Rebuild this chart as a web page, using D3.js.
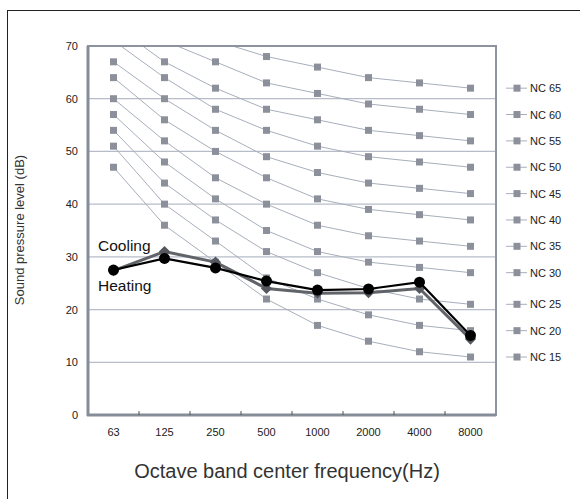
<!DOCTYPE html>
<html>
<head>
<meta charset="utf-8">
<script src="https://cdn.jsdelivr.net/npm/d3@7"></script>
<style>
  body { margin: 0; background: #fff; }
  svg { font-family: 'Liberation Sans', Arial, sans-serif; }
</style>
</head>
<body>
<div id="container"></div>
<script>
const frequencies = ['63', '125', '250', '500', '1000', '2000', '4000', '8000'];
const ncNames = ['NC 65', 'NC 60', 'NC 55', 'NC 50', 'NC 45', 'NC 40', 'NC 35', 'NC 30', 'NC 25', 'NC 20', 'NC 15'];
const ncValues = [
  [80, 75, 71, 68, 66, 64, 63, 62],
  [77, 71, 67, 63, 61, 59, 58, 57],
  [74, 67, 62, 58, 56, 54, 53, 52],
  [71, 64, 58, 54, 51, 49, 48, 47],
  [67, 60, 54, 49, 46, 44, 43, 42],
  [64, 56, 50, 45, 41, 39, 38, 37],
  [60, 52, 45, 40, 36, 34, 33, 32],
  [57, 48, 41, 35, 31, 29, 28, 27],
  [54, 44, 37, 31, 27, 24, 22, 21],
  [51, 40, 33, 26, 22, 19, 17, 16],
  [47, 36, 29, 22, 17, 14, 12, 11]
];
const coolingValues = [27.4, 31.0, 29.0, 24.0, 23.1, 23.2, 24.0, 14.4];
const heatingValues = [27.5, 29.7, 27.9, 25.4, 23.7, 23.9, 25.2, 15.1];
const yTicks = [0, 10, 20, 30, 40, 50, 60, 70];

const width = 580;
const height = 499;
const plot = { left: 88, top: 46, right: 496, bottom: 415 };

const svg = d3
  .select('#container')
  .append('svg')
  .attr('width', width)
  .attr('height', height);

// outer frame
svg
  .append('rect')
  .attr('x', 7.5)
  .attr('y', 10.5)
  .attr('width', 600)
  .attr('height', 600)
  .attr('fill', 'none')
  .attr('stroke', '#222')
  .attr('stroke-width', 1);

const x = d3
  .scaleBand()
  .domain(frequencies)
  .range([plot.left, plot.right]);
const y = d3.scaleLinear().domain([0, 70]).range([plot.bottom, plot.top]);
const cx = (d) => x(d) + x.bandwidth() / 2;

svg
  .append('defs')
  .append('clipPath')
  .attr('id', 'plotClip')
  .append('rect')
  .attr('x', plot.left)
  .attr('y', plot.top)
  .attr('width', plot.right - plot.left)
  .attr('height', plot.bottom - plot.top);

// grid
svg
  .append('g')
  .selectAll('line')
  .data(yTicks.filter((d) => d > 0 && d < 70))
  .enter()
  .append('line')
  .attr('x1', plot.left)
  .attr('x2', plot.right)
  .attr('y1', (d) => y(d))
  .attr('y2', (d) => y(d))
  .attr('stroke', '#b6bcc8')
  .attr('stroke-width', 1.2);

// NC curves
const ncLine = d3
  .line()
  .x((d, i) => cx(frequencies[i]))
  .y((d) => y(d));

const ncGroup = svg.append('g').attr('clip-path', 'url(#plotClip)');
ncGroup
  .selectAll('path')
  .data(ncValues)
  .enter()
  .append('path')
  .attr('d', ncLine)
  .attr('fill', 'none')
  .attr('stroke', '#a7afbb')
  .attr('stroke-width', 1);

ncValues.forEach((series) => {
  ncGroup
    .append('g')
    .selectAll('rect')
    .data(series.filter((v) => v <= 68))
    .enter()
    .append('rect')
    .attr('x', (d) => cx(frequencies[series.indexOf(d)]) - 3.5)
    .attr('y', (d) => y(d) - 3.5)
    .attr('width', 7)
    .attr('height', 7)
    .attr('fill', '#8b909b');
});

// axes frame
svg
  .append('rect')
  .attr('x', plot.left)
  .attr('y', plot.top)
  .attr('width', plot.right - plot.left)
  .attr('height', plot.bottom - plot.top)
  .attr('fill', 'none')
  .attr('stroke', '#8d939f')
  .attr('stroke-width', 2);
svg
  .append('line')
  .attr('x1', plot.left)
  .attr('x2', plot.left)
  .attr('y1', plot.top)
  .attr('y2', plot.bottom + 1)
  .attr('stroke', '#868c98')
  .attr('stroke-width', 3);
svg
  .append('line')
  .attr('x1', plot.left - 1)
  .attr('x2', plot.right)
  .attr('y1', plot.bottom)
  .attr('y2', plot.bottom)
  .attr('stroke', '#868c98')
  .attr('stroke-width', 3);

// x tick marks at band boundaries
svg
  .append('g')
  .selectAll('line')
  .data(frequencies.slice(1))
  .enter()
  .append('line')
  .attr('x1', (d) => x(d))
  .attr('x2', (d) => x(d))
  .attr('y1', plot.bottom)
  .attr('y2', plot.bottom - 4)
  .attr('stroke', '#555')
  .attr('stroke-width', 1);

// tick labels
svg
  .append('g')
  .selectAll('text')
  .data(frequencies)
  .enter()
  .append('text')
  .attr('x', (d) => cx(d))
  .attr('y', 436)
  .attr('text-anchor', 'middle')
  .attr('font-size', 11)
  .attr('fill', '#222')
  .text((d) => d);

svg
  .append('g')
  .selectAll('text')
  .data(yTicks)
  .enter()
  .append('text')
  .attr('x', 78)
  .attr('y', (d) => y(d) + 4)
  .attr('text-anchor', 'end')
  .attr('font-size', 11)
  .attr('fill', '#222')
  .text((d) => d);

// axis titles
svg
  .append('text')
  .attr('transform', 'translate(24, 230) rotate(-90)')
  .attr('text-anchor', 'middle')
  .attr('font-size', 13)
  .attr('fill', '#333')
  .text('Sound pressure level (dB)');

svg
  .append('text')
  .attr('x', 287)
  .attr('y', 478)
  .attr('text-anchor', 'middle')
  .attr('font-size', 20)
  .attr('fill', '#333')
  .text('Octave band center frequency(Hz)');

// measured series
const valueLine = d3
  .line()
  .x((d, i) => cx(frequencies[i]))
  .y((d) => y(d));

svg
  .append('path')
  .attr('d', valueLine(coolingValues))
  .attr('fill', 'none')
  .attr('stroke', '#606368')
  .attr('stroke-width', 3);

svg
  .append('g')
  .selectAll('path')
  .data(coolingValues)
  .enter()
  .append('path')
  .attr('d', d3.symbol(d3.symbolDiamond2, 80))
  .attr('transform', (d, i) => 'translate(' + cx(frequencies[i]) + ', ' + y(d) + ')')
  .attr('fill', '#55585e');

svg
  .append('path')
  .attr('d', valueLine(heatingValues))
  .attr('fill', 'none')
  .attr('stroke', '#000')
  .attr('stroke-width', 2.2);

svg
  .append('g')
  .selectAll('circle')
  .data(heatingValues)
  .enter()
  .append('circle')
  .attr('cx', (d, i) => cx(frequencies[i]))
  .attr('cy', (d) => y(d))
  .attr('r', 5.5)
  .attr('fill', '#000');

svg
  .append('text')
  .attr('x', 98)
  .attr('y', 251)
  .attr('font-size', 15.5)
  .attr('fill', '#111')
  .text('Cooling');

svg
  .append('text')
  .attr('x', 98)
  .attr('y', 291)
  .attr('font-size', 15.5)
  .attr('fill', '#111')
  .text('Heating');

// legend, each entry level with its curve end
const legend = svg
  .append('g')
  .selectAll('g')
  .data(ncNames)
  .enter()
  .append('g')
  .attr('transform', (d, i) => 'translate(0, ' + y(ncValues[i][7]) + ')');

legend
  .append('line')
  .attr('x1', 506)
  .attr('x2', 527)
  .attr('stroke', '#a7afbb')
  .attr('stroke-width', 1);
legend
  .append('rect')
  .attr('x', 513.5)
  .attr('y', -3.5)
  .attr('width', 7)
  .attr('height', 7)
  .attr('fill', '#8b909b');
legend
  .append('text')
  .attr('x', 530)
  .attr('y', 4)
  .attr('font-size', 11)
  .attr('fill', '#222')
  .text((d) => d);
</script>
</body>
</html>
